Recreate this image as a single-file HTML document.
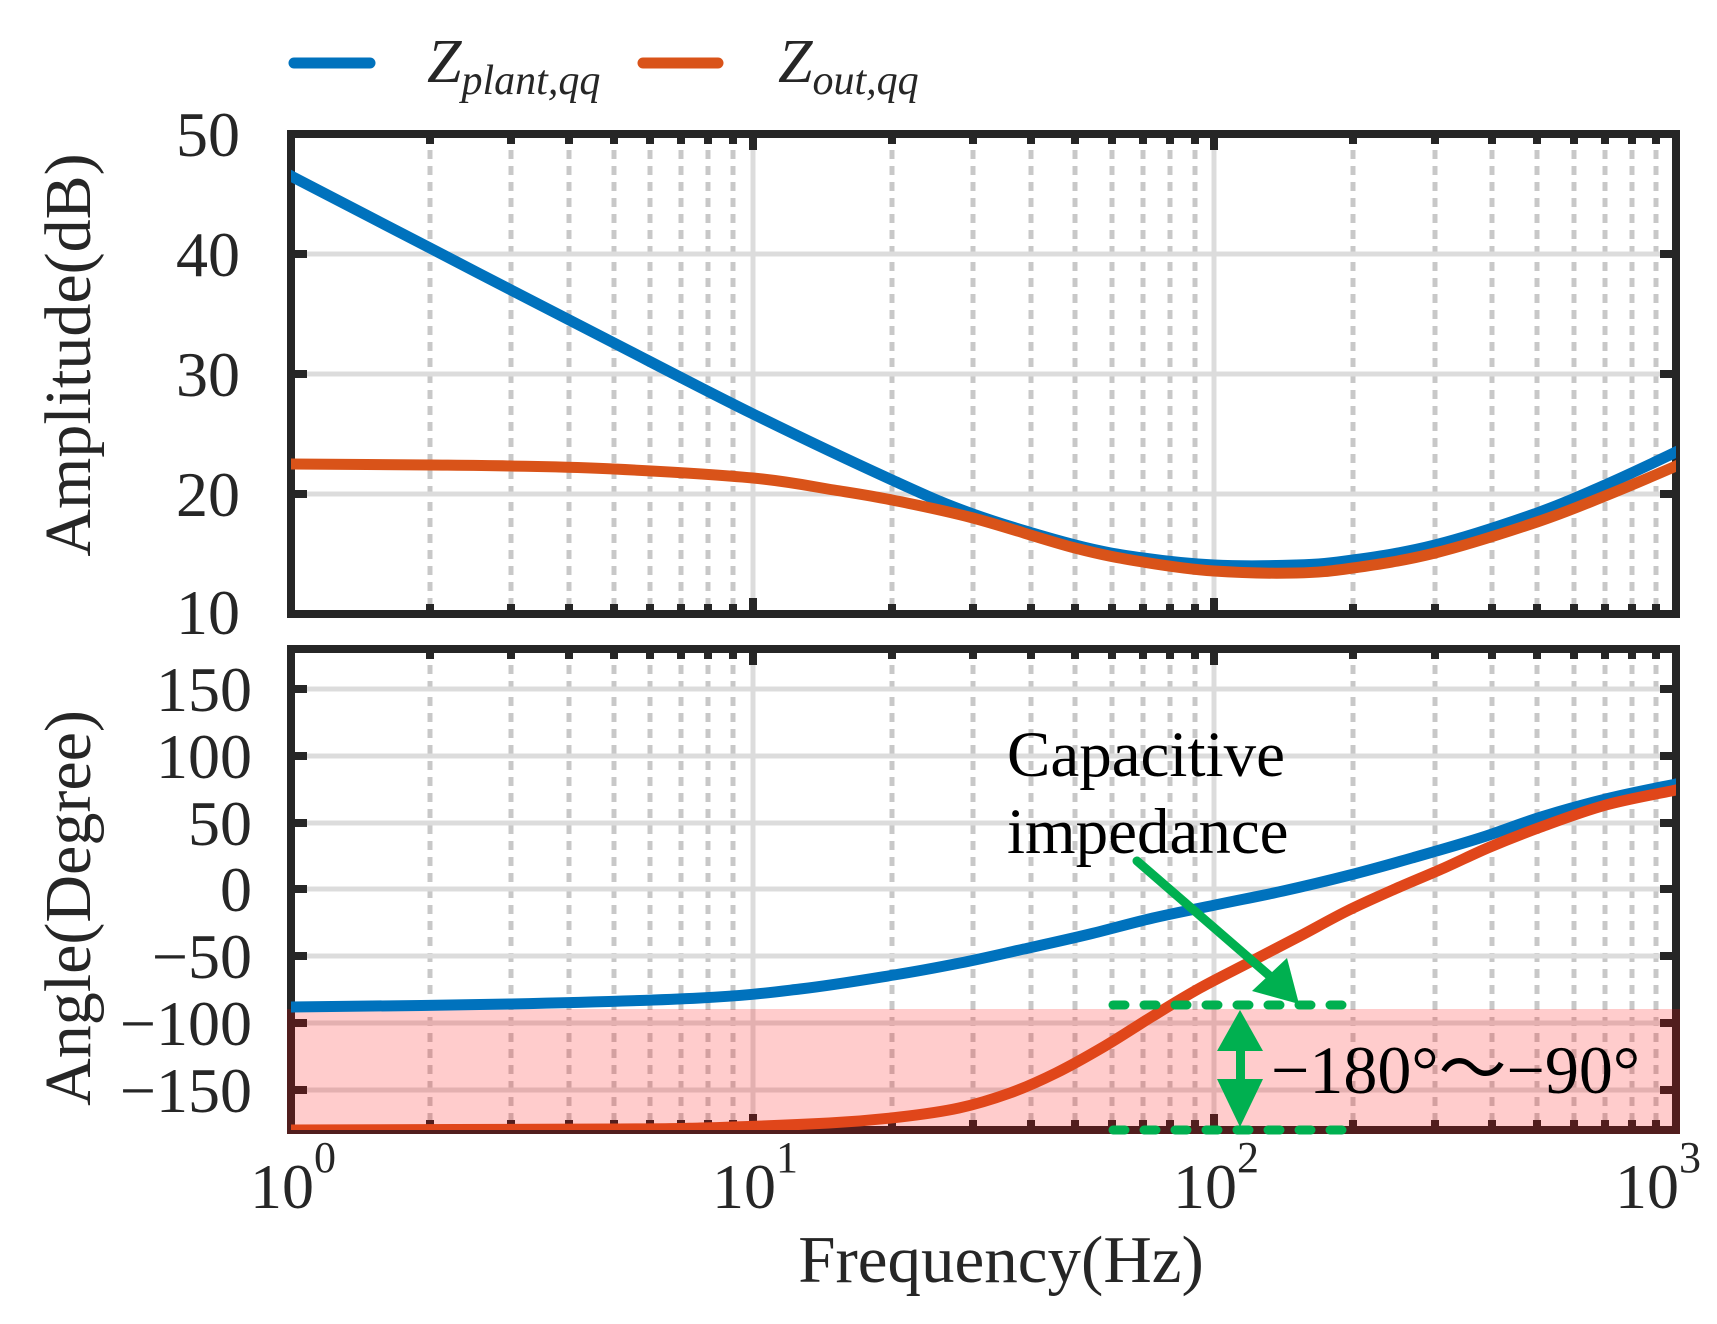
<!DOCTYPE html>
<html><head><meta charset="utf-8"><style>
html,body{margin:0;padding:0;background:#fff;}
svg{display:block;}
text{font-family:"Liberation Serif","Times New Roman",serif;fill:#262626;}
</style></head><body>
<svg width="1717" height="1324" viewBox="0 0 1717 1324" xmlns="http://www.w3.org/2000/svg">
<defs>
<clipPath id="ct"><rect x="291" y="134" width="1385" height="480"/></clipPath>
<clipPath id="cb"><rect x="291" y="649" width="1385" height="481"/></clipPath>
</defs>
<g stroke="#c8c8c8" stroke-width="5" stroke-dasharray="9,7" fill="none">
<path d="M430 134V614M511 134V614M569 134V614M614 134V614M650 134V614M681 134V614M708 134V614M733 134V614M892 134V614M973 134V614M1031 134V614M1075 134V614M1112 134V614M1143 134V614M1170 134V614M1195 134V614M1353 134V614M1435 134V614M1492 134V614M1537 134V614M1574 134V614M1605 134V614M1632 134V614M1656 134V614"/>
<path d="M430 649V1130M511 649V1130M569 649V1130M614 649V1130M650 649V1130M681 649V1130M708 649V1130M733 649V1130M892 649V1130M973 649V1130M1031 649V1130M1075 649V1130M1112 649V1130M1143 649V1130M1170 649V1130M1195 649V1130M1353 649V1130M1435 649V1130M1492 649V1130M1537 649V1130M1574 649V1130M1605 649V1130M1632 649V1130M1656 649V1130"/>
</g>
<g stroke="#dcdcdc" stroke-width="5" fill="none">
<path d="M753 134V614M1214 134V614M753 649V1130M1214 649V1130"/>
<path d="M291 254H1676M291 374H1676M291 494H1676"/>
<path d="M291 689H1676M291 756H1676M291 823H1676M291 889H1676M291 956H1676M291 1023H1676M291 1090H1676"/>
</g>
<g stroke="#262626" stroke-width="8" fill="none">
<path d="M430 134v10M511 134v10M569 134v10M614 134v10M650 134v10M681 134v10M708 134v10M733 134v10M892 134v10M973 134v10M1031 134v10M1075 134v10M1112 134v10M1143 134v10M1170 134v10M1195 134v10M1353 134v10M1435 134v10M1492 134v10M1537 134v10M1574 134v10M1605 134v10M1632 134v10M1656 134v10"/>
<path d="M430 614v-10M511 614v-10M569 614v-10M614 614v-10M650 614v-10M681 614v-10M708 614v-10M733 614v-10M892 614v-10M973 614v-10M1031 614v-10M1075 614v-10M1112 614v-10M1143 614v-10M1170 614v-10M1195 614v-10M1353 614v-10M1435 614v-10M1492 614v-10M1537 614v-10M1574 614v-10M1605 614v-10M1632 614v-10M1656 614v-10"/>
<path d="M430 649v10M511 649v10M569 649v10M614 649v10M650 649v10M681 649v10M708 649v10M733 649v10M892 649v10M973 649v10M1031 649v10M1075 649v10M1112 649v10M1143 649v10M1170 649v10M1195 649v10M1353 649v10M1435 649v10M1492 649v10M1537 649v10M1574 649v10M1605 649v10M1632 649v10M1656 649v10"/>
<path d="M430 1130v-10M511 1130v-10M569 1130v-10M614 1130v-10M650 1130v-10M681 1130v-10M708 1130v-10M733 1130v-10M892 1130v-10M973 1130v-10M1031 1130v-10M1075 1130v-10M1112 1130v-10M1143 1130v-10M1170 1130v-10M1195 1130v-10M1353 1130v-10M1435 1130v-10M1492 1130v-10M1537 1130v-10M1574 1130v-10M1605 1130v-10M1632 1130v-10M1656 1130v-10"/>
<path d="M753 134v16M1214 134v16M753 614v-16M1214 614v-16M753 649v16M1214 649v16M753 1130v-16M1214 1130v-16"/>
<path d="M291 254h16M291 374h16M291 494h16M1676 254h-16M1676 374h-16M1676 494h-16"/>
<path d="M291 689h16M291 756h16M291 823h16M291 889h16M291 956h16M291 1023h16M291 1090h16M1676 689h-16M1676 756h-16M1676 823h-16M1676 889h-16M1676 956h-16M1676 1023h-16M1676 1090h-16"/>
<rect x="291" y="134" width="1385" height="480"/>
<rect x="291" y="649" width="1385" height="481"/>
</g>
<rect x="287" y="1009" width="1393" height="125" fill="rgba(255,0,0,0.2)"/>
<g clip-path="url(#ct)" fill="none" stroke-width="11" stroke-linejoin="round">
<polyline class="sm" stroke="#0072bd" points="285,172 291,176 430,248 511,290 614,343 753,414 892,480 973,514 1075,545 1143,558 1214,565 1296,565 1353,560 1435,545 1537,513 1605,485 1676,452 1690,444"/>
<polyline class="sm" stroke="#d95319" points="285,464 291,464 430,465 511,466 614,469 753,478 834,490 892,500 973,518 1075,548 1143,562 1214,571 1296,573 1353,568 1435,553 1537,522 1605,496 1676,466 1690,459"/>
</g>
<g clip-path="url(#cb)" fill="none" stroke-width="11" stroke-linejoin="round">
<polyline class="sm" stroke="#0072bd" points="285,1007 291,1007 511,1004 700,998 800,989 894,975 960,963 1024,949 1090,934 1153,918 1220,904 1283,891 1350,875 1412,858 1480,838 1541,817 1610,798 1676,784 1690,781"/>
<polyline class="sm" stroke="#e0461a" points="285,1130 291,1130 614,1129 700,1128 829,1123 900,1117 959,1108 1010,1093 1056,1073 1105,1046 1153,1016 1200,988 1250,962 1300,936 1347,911 1395,889 1444,868 1490,847 1541,827 1606,805 1676,790 1690,787"/>
</g>
<g stroke="#00b050" stroke-width="9" stroke-linecap="round" fill="none" stroke-dasharray="12,19">
<path d="M1113 1005H1347"/>
<path d="M1113 1130H1347"/>
</g>
<g fill="#00b050" stroke="none">
<rect x="1236" y="1040" width="9" height="45" rx="4"/>
<rect x="1236" y="1068" width="9" height="40" rx="4"/>
<polygon points="1240,1010 1217,1051 1263,1051"/>
<polygon points="1240,1127 1217,1079 1263,1079"/>
<polygon points="1299,1004 1252,991 1287,958"/>
</g>
<line x1="1137" y1="861" x2="1272" y2="978" stroke="#00b050" stroke-width="9" stroke-linecap="round"/>
<g font-size="64" text-anchor="end">
<text x="240" y="156">50</text>
<text x="240" y="276">40</text>
<text x="240" y="396">30</text>
<text x="240" y="516">20</text>
<text x="240" y="634">10</text>
<text x="252" y="711">150</text>
<text x="252" y="778">100</text>
<text x="252" y="845">50</text>
<text x="252" y="911">0</text>
<text x="252" y="978">−50</text>
<text x="252" y="1045">−100</text>
<text x="252" y="1112">−150</text>
</g>
<g font-size="64">
<text x="250" y="1208">10<tspan font-size="44" dy="-36">0</tspan></text>
<text x="712" y="1208">10<tspan font-size="44" dy="-36">1</tspan></text>
<text x="1173" y="1208">10<tspan font-size="44" dy="-36">2</tspan></text>
<text x="1615" y="1208">10<tspan font-size="44" dy="-36">3</tspan></text>
</g>
<text x="1001" y="1282" font-size="67" text-anchor="middle">Frequency(Hz)</text>
<text transform="translate(90,355) rotate(-90)" font-size="66" text-anchor="middle">Amplitude(dB)</text>
<text transform="translate(90,908) rotate(-90)" font-size="66" text-anchor="middle">Angle(Degree)</text>
<text x="1007" y="776" font-size="65" style="fill:#000">Capacitive</text>
<text x="1007" y="853" font-size="65" style="fill:#000">impedance</text>
<text x="1271" y="1093" style="fill:#000" font-size="68">−180°～−90°</text>
<line x1="294" y1="63" x2="370" y2="63" stroke="#0072bd" stroke-width="11" stroke-linecap="round"/>
<line x1="643" y1="63" x2="718" y2="63" stroke="#d95319" stroke-width="11" stroke-linecap="round"/>
<text x="427" y="82" font-size="62" font-style="italic">Z<tspan font-size="42" dy="12">plant,qq</tspan></text>
<text x="778" y="82" font-size="62" font-style="italic">Z<tspan font-size="42" dy="12">out,qq</tspan></text>
</svg>
<script>
document.querySelectorAll('polyline.sm').forEach(function(pl){
  var p=pl.getAttribute('points').trim().split(/\s+/).map(function(s){return s.split(',').map(Number);});
  var d='M'+p[0][0]+' '+p[0][1];
  for(var i=0;i<p.length-1;i++){
    var p0=p[i-1]||p[i],p1=p[i],p2=p[i+1],p3=p[i+2]||p2;
    var c1x=p1[0]+(p2[0]-p0[0])/6,c1y=p1[1]+(p2[1]-p0[1])/6;
    var c2x=p2[0]-(p3[0]-p1[0])/6,c2y=p2[1]-(p3[1]-p1[1])/6;
    d+=' C'+c1x.toFixed(1)+' '+c1y.toFixed(1)+' '+c2x.toFixed(1)+' '+c2y.toFixed(1)+' '+p2[0]+' '+p2[1];
  }
  var path=document.createElementNS('http://www.w3.org/2000/svg','path');
  path.setAttribute('d',d);path.setAttribute('stroke',pl.getAttribute('stroke'));
  pl.parentNode.replaceChild(path,pl);
});
</script>
</body></html>
